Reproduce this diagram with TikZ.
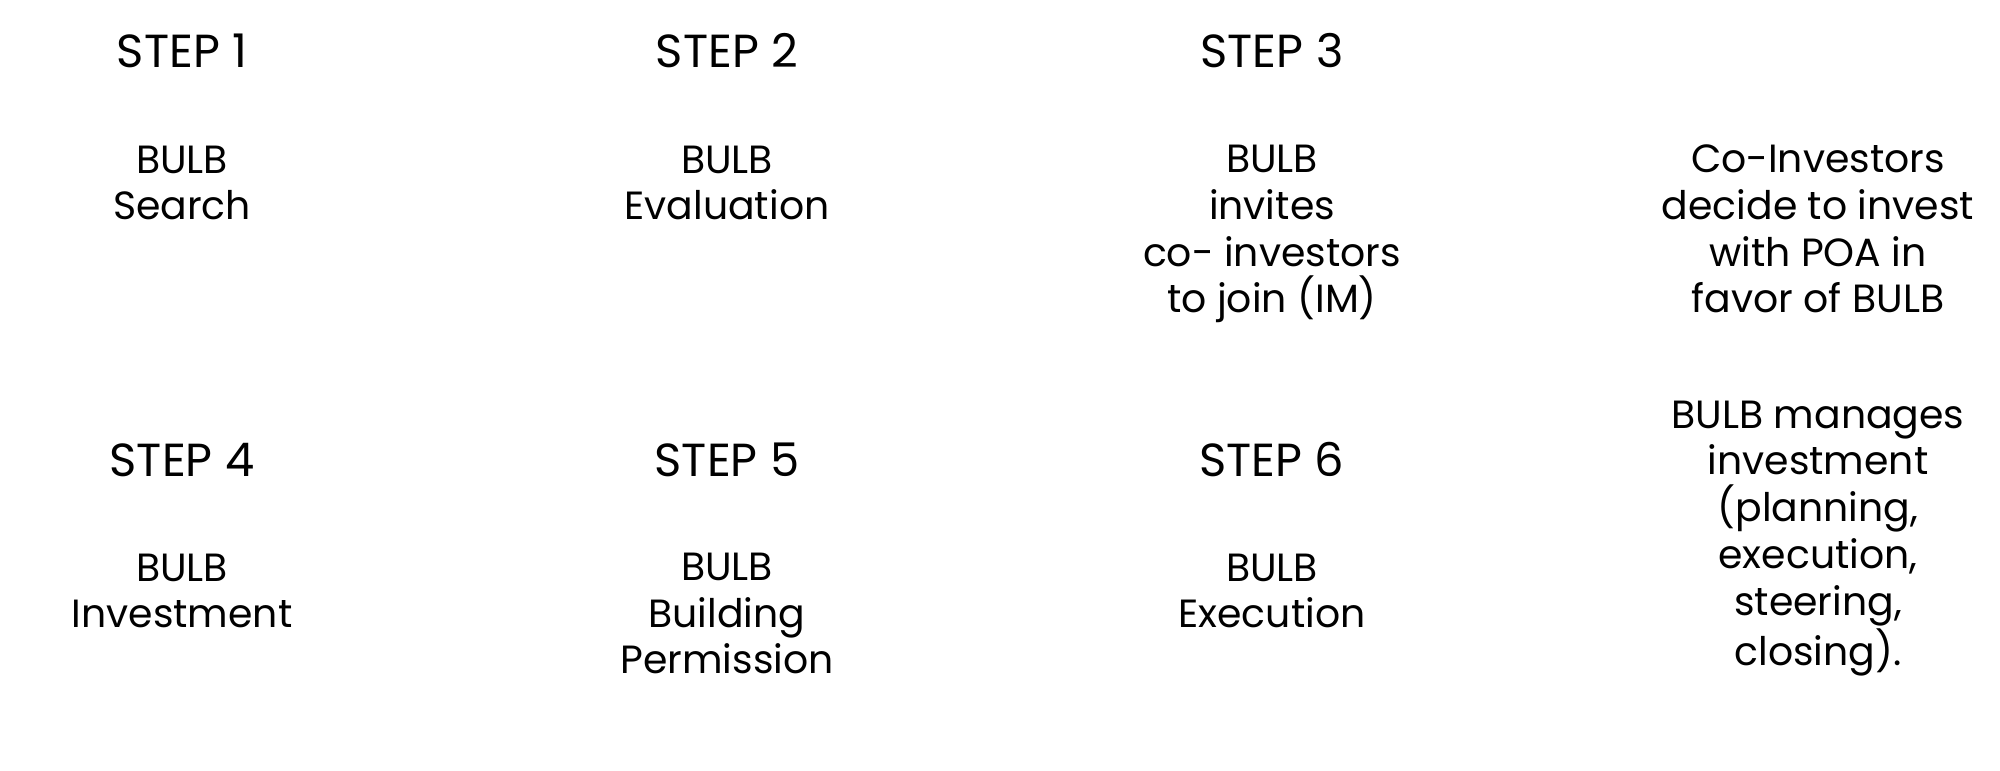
\documentclass[tikz,border=0pt]{standalone}
\usepackage{fontspec}
\setmainfont{Poppins}
\begin{document}
\begin{tikzpicture}[x=0.1mm,y=-0.1mm,
  steplabel/.style={anchor=base,inner sep=0pt,font=\fontsize{13.2}{14}\selectfont},
  desc/.style={anchor=base,inner sep=0pt,align=center,font=\fontsize{11.2}{13.3}\selectfont}]
\useasboundingbox[fill=white] (0,0) rectangle (2000,771);
\node[steplabel] (s1) at (182,68) {STEP 1};
\node[steplabel] (s2) at (727,68) {STEP 2};
\node[steplabel] (s3) at (1272,68) {STEP 3};
\node[steplabel] (s4) at (182,477) {STEP 4};
\node[steplabel] (s5) at (727,477) {STEP 5};
\node[steplabel] (s6) at (1272,477) {STEP 6};
% base anchor = baseline of the last line
\node[desc] (d1) at (182,220) {BULB\\Search};
\node[desc] (d2) at (727,220) {BULB\\Evaluation};
\node[desc] (d3) at (1272,313) {BULB\\invites\\co- investors\\to join (IM)};
\node[desc] (d4) at (182,628) {BULB\\Investment};
\node[desc] (d5) at (727,674) {BULB\\Building\\Permission};
\node[desc] (d6) at (1272,628) {BULB\\Execution};
\node[desc] (n1) at (1818,313) {Co-Investors\\decide to invest\\with POA in\\favor of BULB};
\node[desc] (n2) at (1818,666) {BULB manages\\investment\\(planning,\\execution,\\steering,\\closing).};
\end{tikzpicture}
\end{document}
